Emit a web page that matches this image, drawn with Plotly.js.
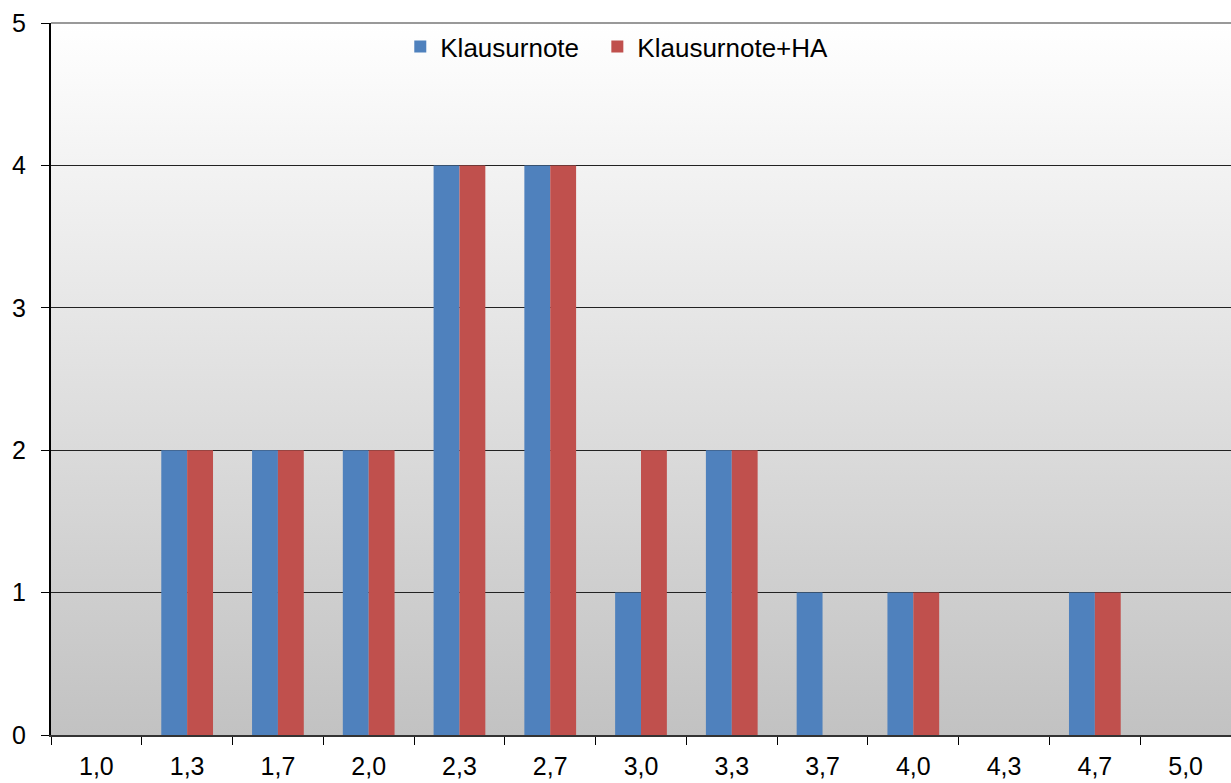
<!DOCTYPE html>
<html><head><meta charset="utf-8">
<script src="https://cdn.plot.ly/plotly-3.0.1.min.js"></script>
<style>html,body{margin:0;padding:0;background:#fff;}#chart{width:1231px;height:783px;}</style>
</head><body><div id="chart"></div>
<script>
const categories = ["1,0","1,3","1,7","2,0","2,3","2,7","3,0","3,3","3,7","4,0","4,3","4,7","5,0"];
const klausurnote = [0,2,2,2,4,4,1,2,1,1,0,1,0];
const klausurnoteHA = [0,2,2,2,4,4,2,2,0,1,0,1,0];
const seriesNames = ["Klausurnote","Klausurnote+HA"];

const gradSvg = '<svg xmlns="http://www.w3.org/2000/svg" width="100" height="100" preserveAspectRatio="none">' +
  '<defs><linearGradient id="g" x1="0" y1="0" x2="0" y2="1">' +
  '<stop offset="0" stop-color="#ffffff"/><stop offset="1" stop-color="#c2c2c2"/></linearGradient></defs>' +
  '<rect width="100" height="100" fill="url(#g)"/></svg>';
const gradSrc = 'data:image/svg+xml;base64,' + btoa(gradSvg);

const data = [
  {type:'bar', name:seriesNames[0], x:categories, y:klausurnote, marker:{color:'#4f81bd'}, legend:'legend'},
  {type:'bar', name:seriesNames[1], x:categories, y:klausurnoteHA, marker:{color:'#c0504d'}, legend:'legend2'}
];
const legendBase = {orientation:'h', xanchor:'left', y:1.0, yanchor:'top', bgcolor:'rgba(0,0,0,0)',
  font:{size:26}, itemwidth:30};
const layout = {
  width:1231, height:783,
  margin:{l:51, r:0, t:23, b:48},
  paper_bgcolor:'#fff', plot_bgcolor:'rgba(0,0,0,0)',
  font:{family:'"Liberation Sans", Arial, sans-serif', size:25, color:'#000'},
  barmode:'group', bargap:0.43, bargroupgap:0,
  showlegend:true,
  legend:Object.assign({}, legendBase, {x:0.296}),
  legend2:Object.assign({}, legendBase, {x:0.463}),
  xaxis:{type:'category', tickson:'boundaries', ticks:'outside', ticklen:8, tickcolor:'#000',
    showline:true, linecolor:'#333', linewidth:2, showgrid:false, fixedrange:true, ticklabelstandoff:8},
  yaxis:{range:[0,5], dtick:1, ticks:'outside', ticklen:8, tickcolor:'#000',
    showline:true, linecolor:'#000', linewidth:2, showgrid:true, gridcolor:'#222', gridwidth:1,
    zeroline:false, ticklabelstandoff:10, fixedrange:true},
  images:[{source:gradSrc, xref:'paper', yref:'paper', x:0, y:1, sizex:1, sizey:1, xanchor:'left', yanchor:'top', sizing:'stretch', layer:'below'}],
  shapes:[{type:'line', xref:'paper', yref:'paper', x0:0, x1:1, y0:1, y1:1, line:{color:'#999', width:2}, layer:'above'}]
};
Plotly.newPlot('chart', data, layout, {displayModeBar:false, staticPlot:true});
</script></body></html>
